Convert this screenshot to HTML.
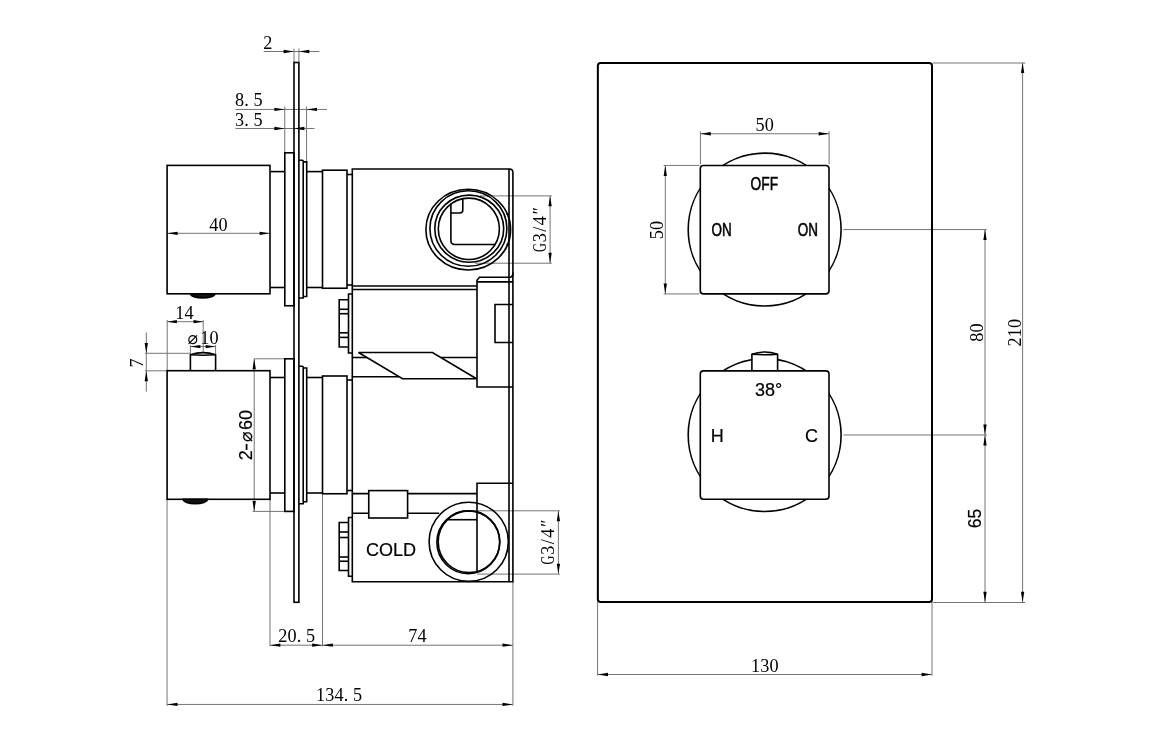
<!DOCTYPE html>
<html lang="en">
<head>
<meta charset="utf-8">
<title>Thermostatic shower valve – dimension drawing</title>
<style>
html,body{margin:0;padding:0;background:#fff;}
body{width:1156px;height:742px;overflow:hidden;}
svg{display:block;filter:grayscale(1);}
.o{stroke:#000;stroke-width:1.6;stroke-linejoin:miter;stroke-miterlimit:2;stroke-linecap:butt;}
.p{stroke-width:2.0;}
.t{stroke:#757575;stroke-width:1.0;fill:none;}
.a{fill:#000;stroke:none;}
text{fill:#000;}
.n{stroke:#000;stroke-width:0.2;}
.b{stroke:#000;stroke-width:0.55;}
.s{font-family:"Liberation Serif",serif;font-size:18.2px;letter-spacing:0.15px;}
.n{font-family:"Liberation Sans",sans-serif;font-size:18px;}
.d{font-family:"DejaVu Sans",sans-serif;font-size:17.5px;letter-spacing:0;}
</style>
</head>
<body>
<svg width="1156" height="742" viewBox="0 0 1156 742">
<rect x="0" y="0" width="1156" height="742" fill="#fff"/>
<line class="t" x1="263.7" y1="51.5" x2="319.3" y2="51.5"/>
<line class="t" x1="294.0" y1="48.7" x2="294.0" y2="62.5"/>
<line class="t" x1="298.9" y1="48.7" x2="298.9" y2="62.5"/>
<polygon class="a" points="294.00,51.50 283.60,53.15 283.60,49.85"/>
<polygon class="a" points="298.90,51.50 309.30,49.85 309.30,53.15"/>
<line class="t" x1="235.5" y1="109.45" x2="327" y2="109.45"/>
<line class="t" x1="284.75" y1="106.5" x2="284.75" y2="152.8"/>
<line class="t" x1="306.55" y1="106.5" x2="306.55" y2="161.9"/>
<polygon class="a" points="284.80,109.45 274.40,111.10 274.40,107.80"/>
<polygon class="a" points="306.60,109.45 317.00,107.80 317.00,111.10"/>
<line class="t" x1="235.5" y1="128.5" x2="314.5" y2="128.5"/>
<polygon class="a" points="284.80,128.50 274.40,130.15 274.40,126.85"/>
<line class="t" x1="167.2" y1="233.3" x2="270" y2="233.3"/>
<polygon class="a" points="167.20,233.30 177.60,231.65 177.60,234.95"/>
<polygon class="a" points="270.00,233.30 259.60,234.95 259.60,231.65"/>
<line class="t" x1="167.2" y1="321.7" x2="203.2" y2="321.7"/>
<line class="t" x1="167.2" y1="320" x2="167.2" y2="370.7"/>
<line class="t" x1="203.2" y1="320" x2="203.2" y2="352.6"/>
<polygon class="a" points="167.20,321.70 176.90,320.05 176.90,323.35"/>
<polygon class="a" points="203.20,321.70 193.50,323.35 193.50,320.05"/>
<line class="t" x1="190.4" y1="346.6" x2="215.6" y2="346.6"/>
<line class="t" x1="190.4" y1="345" x2="190.4" y2="354.6"/>
<line class="t" x1="215.6" y1="345" x2="215.6" y2="354.6"/>
<polygon class="a" points="190.40,346.60 200.40,344.95 200.40,348.25"/>
<polygon class="a" points="215.60,346.60 205.60,348.25 205.60,344.95"/>
<line class="t" x1="146.3" y1="332.4" x2="146.3" y2="391.7"/>
<line class="t" x1="145" y1="353.3" x2="190.4" y2="353.3"/>
<line class="t" x1="145" y1="370.8" x2="167.2" y2="370.8"/>
<polygon class="a" points="146.30,353.30 144.65,342.90 147.95,342.90"/>
<polygon class="a" points="146.30,370.80 147.95,381.20 144.65,381.20"/>
<line class="t" x1="254.2" y1="358.8" x2="254.2" y2="511.4"/>
<line class="t" x1="254.2" y1="358.8" x2="284.8" y2="358.8"/>
<line class="t" x1="252.5" y1="511.4" x2="284.8" y2="511.4"/>
<polygon class="a" points="254.20,358.80 255.85,369.20 252.55,369.20"/>
<polygon class="a" points="254.20,511.40 252.55,501.00 255.85,501.00"/>
<line class="t" x1="167.05" y1="499.3" x2="167.05" y2="705.9"/>
<line class="t" x1="270" y1="499.3" x2="270" y2="646.3"/>
<line class="t" x1="322.5" y1="493.7" x2="322.5" y2="646.3"/>
<line class="t" x1="512.9" y1="581.7" x2="512.9" y2="705.6"/>
<line class="t" x1="270" y1="645.2" x2="512.9" y2="645.2"/>
<polygon class="a" points="270.00,645.20 280.40,643.55 280.40,646.85"/>
<polygon class="a" points="322.50,645.20 312.10,646.85 312.10,643.55"/>
<polygon class="a" points="322.50,645.20 332.90,643.55 332.90,646.85"/>
<polygon class="a" points="512.90,645.20 502.50,646.85 502.50,643.55"/>
<line class="t" x1="167.1" y1="704.45" x2="512.9" y2="704.45"/>
<polygon class="a" points="167.10,704.45 177.50,702.80 177.50,706.10"/>
<polygon class="a" points="512.90,704.45 502.50,706.10 502.50,702.80"/>
<line class="t" x1="550.1" y1="195.9" x2="550.1" y2="263.2"/>
<line class="t" x1="480" y1="195.9" x2="551.8" y2="195.9"/>
<line class="t" x1="475" y1="263.2" x2="551.8" y2="263.2"/>
<polygon class="a" points="550.10,195.90 551.75,206.30 548.45,206.30"/>
<polygon class="a" points="550.10,263.20 548.45,252.80 551.75,252.80"/>
<line class="t" x1="558.4" y1="510.8" x2="558.4" y2="574.1"/>
<line class="t" x1="477" y1="510.8" x2="559.9" y2="510.8"/>
<line class="t" x1="477" y1="574.1" x2="559.9" y2="574.1"/>
<polygon class="a" points="558.40,510.80 560.05,521.20 556.75,521.20"/>
<polygon class="a" points="558.40,574.10 556.75,563.70 560.05,563.70"/>
<rect class="o" x="294.0" y="62.5" width="4.90" height="539.80" fill="none" rx="0"/>
<polygon class="a" points="294.00,128.50 304.40,126.85 304.40,130.15"/>
<rect class="o" x="167.1" y="165.4" width="102.90" height="128.40" fill="none" rx="0"/>
<line class="o" x1="270" y1="171.6" x2="284.8" y2="171.6"/>
<line class="o" x1="270" y1="287.5" x2="284.8" y2="287.5"/>
<rect class="o" x="284.8" y="152.8" width="9.20" height="152.95" fill="none" rx="0"/>
<path class="o" d="M298.9,160.3 H302.4 Q303.2,160.3 303.2,161.10000000000002 V298.0 H298.9" fill="none"/>
<path class="o" d="M303.2,161.9 H306.7 V296.5 H303.2" fill="none"/>
<line class="o" x1="306.7" y1="171.6" x2="322.5" y2="171.6"/>
<line class="o" x1="306.7" y1="287.5" x2="322.5" y2="287.5"/>
<rect class="o" x="322.5" y="170.2" width="24.50" height="118.05" fill="none" rx="0"/>
<line class="o" x1="347" y1="174.5" x2="352.3" y2="174.5"/>
<line class="o" x1="347" y1="285.0" x2="352.3" y2="285.0"/>
<rect class="o" x="167.1" y="370.7" width="102.90" height="128.60" fill="none" rx="0"/>
<line class="o" x1="270" y1="377.5" x2="284.8" y2="377.5"/>
<line class="o" x1="270" y1="493.0" x2="284.8" y2="493.0"/>
<rect class="o" x="284.8" y="358.8" width="9.20" height="152.60" fill="none" rx="0"/>
<path class="o" d="M298.9,366.25 H302.4 Q303.2,366.25 303.2,367.05 V503.75 H298.9" fill="none"/>
<path class="o" d="M303.2,368.0 H306.7 V501.75 H303.2" fill="none"/>
<line class="o" x1="306.7" y1="377.5" x2="322.5" y2="377.5"/>
<line class="o" x1="306.7" y1="493.0" x2="322.5" y2="493.0"/>
<rect class="o" x="322.5" y="376.0" width="24.50" height="117.75" fill="none" rx="0"/>
<line class="o" x1="347" y1="380.0" x2="352.3" y2="380.0"/>
<line class="o" x1="347" y1="490.5" x2="352.3" y2="490.5"/>
<path class="o" d="M190.4,293.8 A12.3,4.1 0 0 0 215,293.8 Z" fill="#111"/>
<path class="o" d="M183.2,499.3 A12.1,4.4 0 0 0 207.4,499.3 Z" fill="#111"/>
<path class="o" d="M190.4,370.7 V354.8 Q203,350.4 215.6,354.8 V370.7" fill="none"/>
<path class="o" d="M190.4,354.8 Q203,355.6 215.6,354.8" fill="none"/>
<path class="o" d="M352.3,581.75 V169.0 H509.4 Q512.9,169.0 512.9,172.6 V581.75 Z" fill="none"/>
<line class="o" x1="509.0" y1="169.0" x2="509.0" y2="581.75"/>
<line class="o" x1="352.3" y1="286.05" x2="477" y2="286.05"/>
<line class="o" x1="352.3" y1="289.5" x2="477" y2="289.5"/>
<path class="o" d="M352.3,294 H348.5 V353 H352.3" fill="none"/>
<path class="o" d="M348.5,299.7 H339.2 V347 H348.5" fill="none"/>
<line class="o" x1="339.2" y1="309.3" x2="348.5" y2="309.3"/>
<line class="o" x1="339.2" y1="313.7" x2="348.5" y2="313.7"/>
<line class="o" x1="339.2" y1="332.8" x2="348.5" y2="332.8"/>
<line class="o" x1="339.2" y1="337.4" x2="348.5" y2="337.4"/>
<path class="o" d="M352.3,517.5 H348.5 V576.25 H352.3" fill="none"/>
<path class="o" d="M348.5,522.5 H339.2 V570.5 H348.5" fill="none"/>
<line class="o" x1="339.2" y1="532" x2="348.5" y2="532"/>
<line class="o" x1="339.2" y1="537.5" x2="348.5" y2="537.5"/>
<line class="o" x1="339.2" y1="557" x2="348.5" y2="557"/>
<line class="o" x1="339.2" y1="561.25" x2="348.5" y2="561.25"/>
<line class="o" x1="352.3" y1="357.5" x2="366.9" y2="357.5"/>
<line class="o" x1="440.9" y1="357.5" x2="477" y2="357.5"/>
<line class="o" x1="352.3" y1="376.75" x2="399.1" y2="376.75"/>
<path class="o" d="M358.5,352.5 H432.5 L476.5,378.75 H402.5 Z" fill="none"/>
<path class="o" d="M512.9,272.6 V273.4 Q512.9,277.3 508.8,277.3 H479.4 L477,280.2 V387 H512.9" fill="none"/>
<line class="o" x1="477" y1="281.9" x2="512.9" y2="281.9"/>
<path class="o" d="M512.9,304.5 H495 V342.5 H512.9" fill="none"/>
<line class="o" x1="352.3" y1="493.6" x2="477" y2="493.6"/>
<line class="o" x1="352.3" y1="513.2" x2="439.2" y2="513.2"/>
<rect class="o" x="368.75" y="490.6" width="38.85" height="27.40" fill="#fff" rx="0"/>
<path class="o" d="M512.9,483.25 H477 V571.6" fill="none"/>
<line class="o" x1="447.4" y1="519.7" x2="477" y2="519.7"/>
<circle class="o" cx="468.7" cy="541.8" r="39.6" fill="none"/>
<circle class="o" cx="468.3" cy="542.3" r="31.4" fill="none"/>
<circle class="o" cx="469.0" cy="541.7" r="30.8" fill="none"/>
<ellipse class="o" cx="468.25" cy="229.6" rx="42.35" ry="40.4" fill="none"/>
<ellipse class="o" cx="468.4" cy="228.55" rx="38.5" ry="37.75" fill="none"/>
<ellipse class="o" cx="469.25" cy="228.65" rx="34.45" ry="33.55" fill="none"/>
<ellipse class="o" cx="468.85" cy="228.8" rx="30.55" ry="30.7" fill="none"/>
<line class="o" x1="506.4" y1="214.2" x2="509.0" y2="214.2"/>
<line class="o" x1="506.4" y1="244.4" x2="509.0" y2="244.4"/>
<path class="o" d="M450.9,203.5 V240.5 Q450.9,244.5 454.9,244.5 H495.2" fill="none"/>
<path class="o" d="M450.9,213 H459.8 Q462.8,213 462.8,210 V198.8" fill="none"/>
<line class="t" x1="700.4" y1="133.75" x2="829.1" y2="133.75"/>
<line class="t" x1="700.4" y1="131.2" x2="700.4" y2="164.5"/>
<line class="t" x1="829.1" y1="131.2" x2="829.1" y2="164.5"/>
<polygon class="a" points="700.40,133.75 710.80,132.10 710.80,135.40"/>
<polygon class="a" points="829.10,133.75 818.70,135.40 818.70,132.10"/>
<line class="t" x1="665.3" y1="165.5" x2="665.3" y2="293.9"/>
<line class="t" x1="663.7" y1="165.45" x2="699.5" y2="165.45"/>
<line class="t" x1="663.7" y1="293.95" x2="699.5" y2="293.95"/>
<polygon class="a" points="665.30,165.50 666.95,175.90 663.65,175.90"/>
<polygon class="a" points="665.30,293.90 663.65,283.50 666.95,283.50"/>
<line class="t" x1="843.3" y1="229.55" x2="986.7" y2="229.55"/>
<line class="t" x1="843.3" y1="435" x2="987" y2="435"/>
<line class="t" x1="985" y1="229.5" x2="985" y2="602"/>
<polygon class="a" points="985.00,229.50 986.65,239.90 983.35,239.90"/>
<polygon class="a" points="985.00,435.00 983.35,424.60 986.65,424.60"/>
<polygon class="a" points="985.00,435.00 986.65,445.40 983.35,445.40"/>
<polygon class="a" points="985.00,602.20 983.35,591.80 986.65,591.80"/>
<line class="t" x1="1022.6" y1="63" x2="1022.6" y2="602"/>
<polygon class="a" points="1022.60,62.60 1024.25,73.00 1020.95,73.00"/>
<polygon class="a" points="1022.60,602.20 1020.95,591.80 1024.25,591.80"/>
<line class="t" x1="932.5" y1="63" x2="1025.3" y2="63"/>
<line class="t" x1="932.5" y1="602.5" x2="1025.2" y2="602.5"/>
<line class="t" x1="597.6" y1="602" x2="597.6" y2="675.6"/>
<line class="t" x1="932" y1="602" x2="932" y2="675.6"/>
<line class="t" x1="597.6" y1="674.5" x2="932" y2="674.5"/>
<polygon class="a" points="597.60,674.50 608.00,672.85 608.00,676.15"/>
<polygon class="a" points="932.00,674.50 921.60,676.15 921.60,672.85"/>
<rect class="o p" x="597.85" y="62.95" width="334.15" height="539.15" fill="none" rx="2.8"/>
<circle class="o" cx="764.65" cy="229.6" r="76.45" fill="none"/>
<rect class="o" x="700.3" y="165.45" width="128.70" height="128.40" fill="#fff" rx="3.2"/>
<circle class="o" cx="764.65" cy="435.05" r="76.45" fill="none"/>
<path class="o" d="M751.9,370.85 V354.3 Q764.7,349.6 777.6,354.3 V370.85" fill="#fff"/>
<path class="o" d="M751.9,354.3 Q764.7,355.3 777.6,354.3" fill="none"/>
<rect class="o" x="700.3" y="370.85" width="128.70" height="128.40" fill="#fff" rx="3.2"/>
<text class="s" x="267.9" y="49" text-anchor="middle">2</text>
<text class="s" x="235.0" y="106.3" text-anchor="start">8.<tspan dx="4.55">5</tspan></text>
<text class="s" x="235.0" y="125.5" text-anchor="start">3.<tspan dx="4.55">5</tspan></text>
<text class="s" x="218.6" y="230.75" text-anchor="middle">40</text>
<text class="s" x="184.5" y="319" text-anchor="middle">14</text>
<text class="s" x="187.6" y="343.8"><tspan class="d">⌀</tspan><tspan x="200.2">10</tspan></text>
<text class="s" x="143.2" y="362.8" text-anchor="middle" transform="rotate(-90 143.2 362.8)">7</text>
<text class="n" transform="translate(252 460.3) rotate(-90)"><tspan x="0">2</tspan><tspan x="9.2" textLength="8" lengthAdjust="spacingAndGlyphs">-</tspan><tspan x="18.4" class="d">⌀</tspan><tspan x="30.3">60</tspan></text>
<text class="s" x="278.2" y="642" text-anchor="start">20.<tspan dx="4.55">5</tspan></text>
<text class="s" x="417.5" y="641.8" text-anchor="middle">74</text>
<text class="s" x="316.0" y="701.25" text-anchor="start">134.<tspan dx="4.55">5</tspan></text>
<text class="s" transform="translate(546.4 251.9) rotate(-90)"><tspan x="0" textLength="9" lengthAdjust="spacingAndGlyphs">G</tspan><tspan x="9.6">3</tspan><tspan x="20.2">/</tspan><tspan x="26.6">4</tspan><tspan x="37.4">″</tspan></text>
<text class="s" transform="translate(554.4 564.4) rotate(-90)"><tspan x="0" textLength="9" lengthAdjust="spacingAndGlyphs">G</tspan><tspan x="9.6">3</tspan><tspan x="20.2">/</tspan><tspan x="26.6">4</tspan><tspan x="37.4">″</tspan></text>
<text class="n" x="391" y="555.5" text-anchor="middle">COLD</text>
<text class="s" x="764.8" y="130.5" text-anchor="middle">50</text>
<text class="s" x="663" y="230" text-anchor="middle" transform="rotate(-90 663 230)">50</text>
<text class="n b" x="764.3" y="189.75" text-anchor="middle" textLength="27.5" lengthAdjust="spacingAndGlyphs">OFF</text>
<text class="n b" x="721.6" y="236.25" text-anchor="middle" textLength="20.2" lengthAdjust="spacingAndGlyphs">ON</text>
<text class="n b" x="807.9" y="236.25" text-anchor="middle" textLength="20.2" lengthAdjust="spacingAndGlyphs">ON</text>
<text class="n" x="768.6" y="395.75" text-anchor="middle">38°</text>
<text class="n" x="717.3" y="442" text-anchor="middle">H</text>
<text class="n" x="811.5" y="442" text-anchor="middle">C</text>
<text class="s" x="982.5" y="332.5" text-anchor="middle" transform="rotate(-90 982.5 332.5)">80</text>
<text class="s" x="1020.75" y="332.5" text-anchor="middle" transform="rotate(-90 1020.75 332.5)">210</text>
<text class="n" x="981.4" y="518.6" text-anchor="middle" transform="rotate(-90 981.4 518.6)" style="font-size:17.5px">65</text>
<text class="s" x="764.8" y="671.75" text-anchor="middle">130</text>
</svg>
</body>
</html>
